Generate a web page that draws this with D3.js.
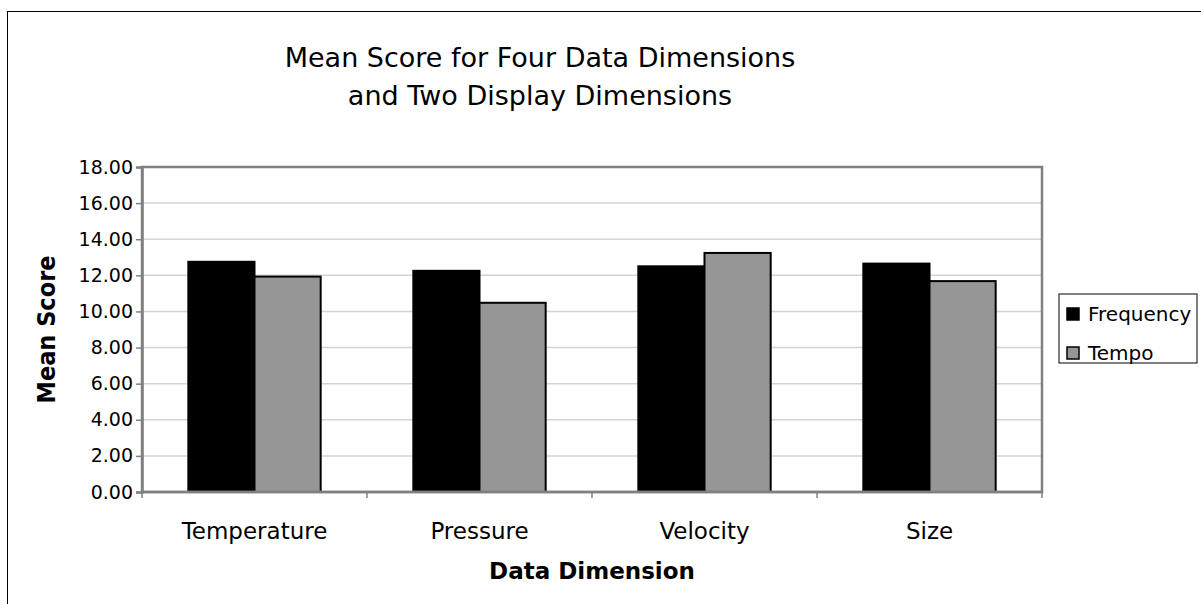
<!DOCTYPE html>
<html lang="en">
<head>
<meta charset="UTF-8">
<script src="https://d3js.org/d3.v7.min.js"></script>
<style>
    body { margin: 0; background: #fff; }
    svg text { font-family: "DejaVu Sans", Verdana, sans-serif; fill: #000; }
</style>
</head>
<body>
<div id="chart_area"></div>
<script>
    // data
    var categories = ["Temperature", "Pressure", "Velocity", "Size"];
    var seriesNames = ["Frequency", "Tempo"];
    var frequency = [12.75, 12.25, 12.5, 12.65];
    var tempo = [11.93, 10.48, 13.24, 11.68];
    var yTicks = [0, 2, 4, 6, 8, 10, 12, 14, 16, 18];

    var W = 1201, H = 604;
    var plot = { left: 142, top: 167, right: 1042, bottom: 492 };
    var colors = { Frequency: "#000000", Tempo: "#969696" };

    var svg = d3.select("#chart_area").append("svg")
        .attr("width", W).attr("height", H);

    // outer chart frame (cut off at right/bottom like the original)
    svg.append("rect")
        .attr("x", 7.5).attr("y", 11.5)
        .attr("width", W + 20).attr("height", H + 20)
        .attr("fill", "none").attr("stroke", "#000").attr("stroke-width", 1);

    var x0 = d3.scaleBand().domain(categories)
        .range([plot.left, plot.right]).paddingInner(0).paddingOuter(0);
    var x1 = d3.scaleBand().domain(seriesNames)
        .range([0, x0.bandwidth()]).paddingInner(0).paddingOuter(0.7);
    var y = d3.scaleLinear().domain([0, 18]).range([plot.bottom, plot.top]);

    // gridlines
    svg.append("g").selectAll("line")
        .data(yTicks.filter(function (d) { return d > 0 && d < 18; }))
        .enter().append("line")
        .attr("x1", plot.left).attr("x2", plot.right)
        .attr("y1", function (d) { return y(d); })
        .attr("y2", function (d) { return y(d); })
        .attr("stroke", "#d4d4d4").attr("stroke-width", 1.5);

    var rows = categories.map(function (c, i) {
        return { cat: c, values: [
            { key: "Frequency", value: frequency[i] },
            { key: "Tempo", value: tempo[i] }
        ] };
    });

    var groups = svg.append("g").selectAll("g")
        .data(rows).enter().append("g")
        .attr("transform", function (d) { return "translate(" + x0(d.cat) + ",0)"; });

    groups.selectAll("rect")
        .data(function (d) { return d.values; })
        .enter().append("rect")
        .attr("x", function (d) { return x1(d.key); })
        .attr("y", function (d) { return y(d.value); })
        .attr("width", x1.bandwidth())
        .attr("height", function (d) { return y(0) - y(d.value); })
        .attr("fill", function (d) { return colors[d.key]; })
        .attr("stroke", "#000").attr("stroke-width", 2);

    // plot frame
    svg.append("rect")
        .attr("x", plot.left).attr("y", plot.top)
        .attr("width", plot.right - plot.left).attr("height", plot.bottom - plot.top)
        .attr("fill", "none").attr("stroke", "#808080").attr("stroke-width", 2.5);

    // y axis
    var yAxis = svg.append("g")
        .attr("transform", "translate(" + plot.left + ",0)")
        .call(d3.axisLeft(y).tickValues(yTicks).tickSize(6).tickPadding(3)
            .tickFormat(d3.format(".2f")));
    yAxis.select(".domain").attr("stroke", "#808080").attr("stroke-width", 2.5);
    yAxis.selectAll(".tick line").attr("stroke", "#808080").attr("stroke-width", 1.5);
    yAxis.selectAll("text").style("font-size", "19px")
        .style("font-family", "'DejaVu Sans', Verdana, sans-serif");

    // x axis: ticks sit at the category boundaries
    var xAxis = svg.append("g")
        .attr("transform", "translate(0," + plot.bottom + ")");
    xAxis.append("line")
        .attr("x1", plot.left).attr("x2", plot.right)
        .attr("stroke", "#808080").attr("stroke-width", 2.5);
    xAxis.selectAll(".tk")
        .data(categories.concat(["end"]))
        .enter().append("line")
        .attr("x1", function (d, i) { return plot.left + i * x0.step(); })
        .attr("x2", function (d, i) { return plot.left + i * x0.step(); })
        .attr("y1", 0).attr("y2", 6)
        .attr("stroke", "#808080").attr("stroke-width", 1.5);
    xAxis.selectAll(".lbl")
        .data(categories).enter().append("text")
        .attr("x", function (d) { return x0(d) + x0.bandwidth() / 2; })
        .attr("y", 47)
        .attr("text-anchor", "middle")
        .style("font-size", "23px")
        .text(function (d) { return d; });

    // axis titles
    svg.append("text")
        .attr("x", (plot.left + plot.right) / 2).attr("y", 579)
        .attr("text-anchor", "middle")
        .style("font-size", "23px").style("font-weight", "bold")
        .text("Data Dimension");

    svg.append("text")
        .attr("transform", "translate(55," + ((plot.top + plot.bottom) / 2) + ") rotate(-90)")
        .attr("text-anchor", "middle")
        .style("font-size", "25px").style("font-weight", "bold")
        .style("font-family", "'DejaVu Sans Condensed', 'DejaVu Sans', sans-serif")
        .text("Mean Score");

    // title
    var title = svg.append("text")
        .attr("x", 540).attr("text-anchor", "middle")
        .style("font-size", "27px");
    title.append("tspan").attr("x", 540).attr("y", 67).text("Mean Score for Four Data Dimensions");
    title.append("tspan").attr("x", 540).attr("y", 105).text("and Two Display Dimensions");

    // legend
    var legend = svg.append("g").attr("transform", "translate(1059,294)");
    legend.append("rect")
        .attr("width", 138).attr("height", 69)
        .attr("fill", "#fff").attr("stroke", "#000").attr("stroke-width", 1);
    var items = legend.selectAll(".item").data(seriesNames).enter().append("g")
        .attr("transform", function (d, i) { return "translate(8," + (20 + i * 39) + ")"; });
    items.append("rect")
        .attr("x", 0).attr("y", -6).attr("width", 12).attr("height", 12)
        .attr("fill", function (d) { return colors[d]; })
        .attr("stroke", "#000").attr("stroke-width", 1.5);
    items.append("text")
        .attr("x", 21).attr("y", 7)
        .style("font-size", "20px")
        .text(function (d) { return d; });
</script>
</body>
</html>
